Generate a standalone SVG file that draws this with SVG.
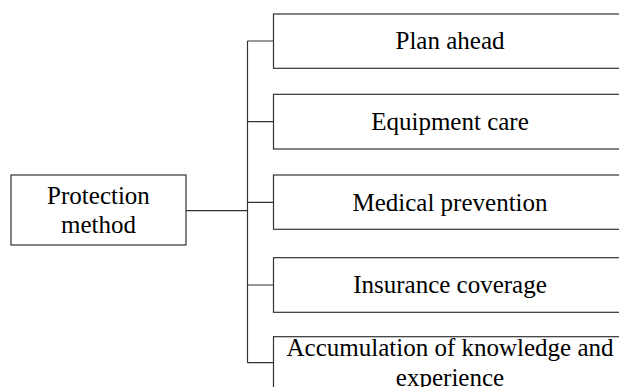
<svg xmlns="http://www.w3.org/2000/svg" width="619" height="387" viewBox="0 0 619 387">
<style>
.box{fill:#fff;stroke:#333;stroke-width:1.2}
.lbl{font-family:"Liberation Serif","Times New Roman",serif;font-size:25px;fill:#000;text-anchor:middle}
.conn{fill:none;stroke:#333;stroke-width:1.2}
</style>
<rect width="619" height="387" fill="#fff"/>
<g id="connectors">
<path class="conn" d="M186 210.7H247.5M247.5 41V362.7M247.5 41H273.5M247.5 121.7H273.5M247.5 202.3H273.5M247.5 285H273.5M247.5 362.7H273.5"/>
</g>
<g id="protection-method">
<rect class="box" x="11" y="175" width="175" height="70"/>
<text class="lbl" x="98.5" y="204">Protection</text>
<text class="lbl" x="98.5" y="233.3">method</text>
</g>
<g id="plan-ahead">
<rect class="box" x="273.5" y="14" width="360" height="54.3"/>
<text class="lbl" x="450" y="49.3">Plan ahead</text>
</g>
<g id="equipment-care">
<rect class="box" x="273.5" y="94.3" width="360" height="54.7"/>
<text class="lbl" x="450" y="129.8">Equipment care</text>
</g>
<g id="medical-prevention">
<rect class="box" x="273.5" y="175" width="360" height="54.3"/>
<text class="lbl" x="450" y="210.8">Medical prevention</text>
</g>
<g id="insurance-coverage">
<rect class="box" x="273.5" y="257.7" width="360" height="54.6"/>
<text class="lbl" x="450" y="293.3">Insurance coverage</text>
</g>
<g id="accumulation">
<rect class="box" x="273.5" y="336.7" width="360" height="80"/>
<text class="lbl" x="450" y="356">Accumulation of knowledge and</text>
<text class="lbl" x="450" y="385.5">experience</text>
</g>
</svg>
